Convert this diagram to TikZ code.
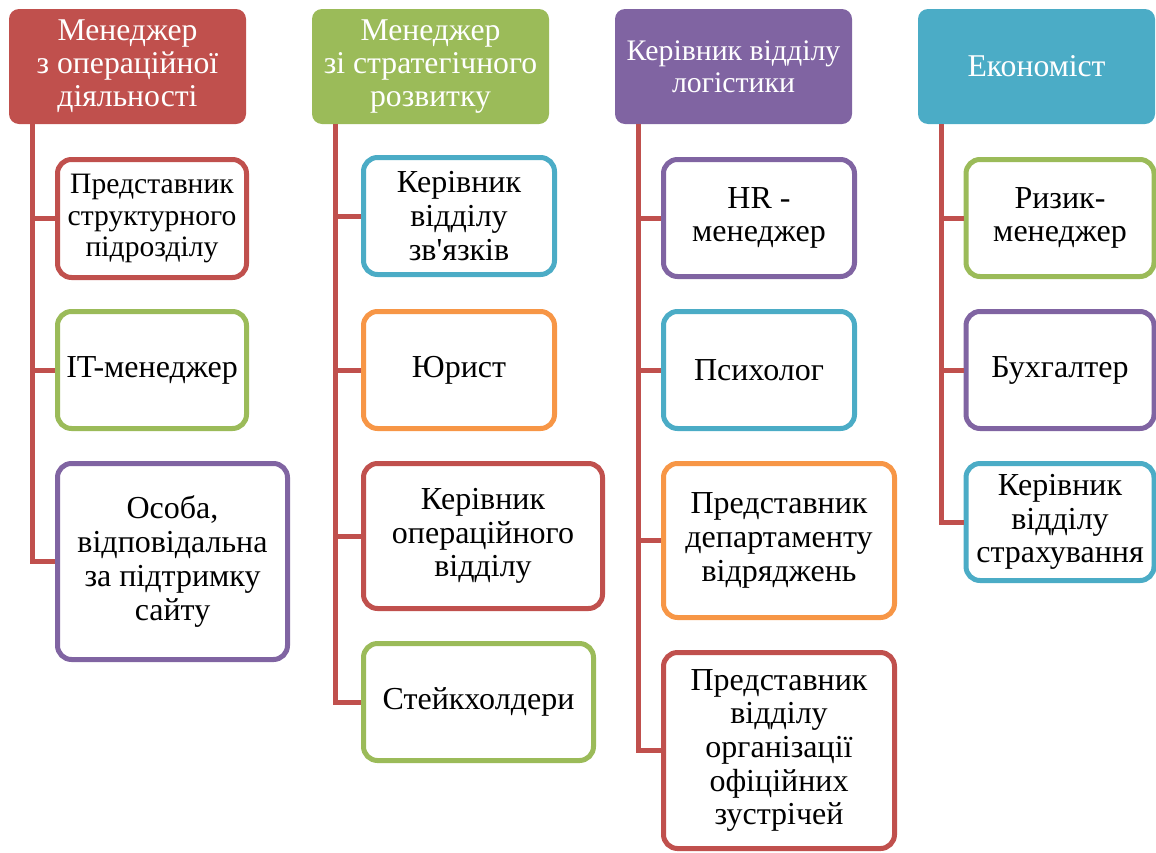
\documentclass[tikz,border=0pt]{standalone}
\usepackage{fontspec}
\setmainfont{Liberation Serif}[Ligatures=TeXOff]
\definecolor{cred}{HTML}{C0504D}
\definecolor{cgreen}{HTML}{9BBB59}
\definecolor{cpurple}{HTML}{8064A2}
\definecolor{cteal}{HTML}{4BACC6}
\definecolor{corange}{HTML}{F79646}
\begin{document}
\begin{tikzpicture}[x=1pt,y=-1pt,
  hdr/.style={rounded corners=10pt, fill=#1, text=white, align=center, inner sep=0pt,
    minimum width=237pt, minimum height=115pt, font=\fontsize{31.7}{33}\selectfont},
  child/.style={rounded corners=14pt, draw=#1, line width=5pt, fill=white, align=center, inner sep=0pt,
    font=\fontsize{32}{33.7}\selectfont},
  conn/.style={draw=cred, line width=5pt}]
\useasboundingbox (0,0) rectangle (1156,852);
% headers
\node[hdr=cred] (h1) at (127.5,66.5) {Менеджер\\з операційної\\діяльності};
\node[hdr=cgreen] (h2) at (430.5,66.5) {Менеджер\\зі стратегічного\\розвитку};
\node[hdr=cpurple, font=\fontsize{29.8}{32}\selectfont] (h3) at (733.5,66.5) {Керівник відділу\\логістики};
\node[hdr=cteal] (h4) at (1036.5,66.5) {Економіст};
\coordinate (t1) at (32,124);
\coordinate (t2) at (335,124);
\coordinate (t3) at (638,124);
\coordinate (t4) at (941,124);
% column 1
\node[child=cred, minimum width=189pt, minimum height=118pt, font=\fontsize{29.6}{31.3}\selectfont] (a1) at (152,218.5) {Представник\\структурного\\підрозділу};
\node[child=cgreen, minimum width=189pt, minimum height=117pt] (a2) at (152,370) {IT-менеджер};
\node[child=cpurple, minimum width=230pt, minimum height=196pt] (a3) at (172.5,561.5) {Особа,\\відповідальна\\за підтримку\\сайту};
% column 2
\node[child=cteal, minimum width=191pt, minimum height=117pt] (b1) at (459,216) {Керівник\\відділу\\зв'язків};
\node[child=corange, minimum width=191pt, minimum height=117pt] (b2) at (459,370) {Юрист};
\node[child=cred, minimum width=239pt, minimum height=145pt] (b3) at (483,536) {Керівник\\операційного\\відділу};
\node[child=cgreen, minimum width=230pt, minimum height=117pt] (b4) at (478.5,702) {Стейкхолдери};
% column 3
\node[child=cpurple, minimum width=191pt, minimum height=117pt] (c1) at (759,218) {HR -\\менеджер};
\node[child=cteal, minimum width=191pt, minimum height=117pt] (c2) at (759,370) {Психолог};
\node[child=corange, minimum width=231pt, minimum height=154pt] (c3) at (779,540.5) {Представник\\департаменту\\відряджень};
\node[child=cred, minimum width=231pt, minimum height=196pt] (c4) at (779,750.5) {Представник\\відділу\\організації\\офіційних\\зустрічей};
% column 4
\node[child=cgreen, minimum width=188pt, minimum height=117pt] (d1) at (1060,218) {Ризик-\\менеджер};
\node[child=cpurple, minimum width=188pt, minimum height=117pt] (d2) at (1060,370) {Бухгалтер};
\node[child=cteal, minimum width=188pt, minimum height=117pt] (d3) at (1060,522) {Керівник\\відділу\\страхування};
% connectors
\draw[conn] (t1) |- (a3.west);
\draw[conn] (t1) |- (a1.west);
\draw[conn] (t1) |- (a2.west);
\draw[conn] (t2) |- (b4.west);
\draw[conn] (t2) |- (b1.west);
\draw[conn] (t2) |- (b2.west);
\draw[conn] (t2) |- (b3.west);
\draw[conn] (t3) |- (c4.west);
\draw[conn] (t3) |- (c1.west);
\draw[conn] (t3) |- (c2.west);
\draw[conn] (t3) |- (c3.west);
\draw[conn] (t4) |- (d3.west);
\draw[conn] (t4) |- (d1.west);
\draw[conn] (t4) |- (d2.west);
\end{tikzpicture}
\end{document}
